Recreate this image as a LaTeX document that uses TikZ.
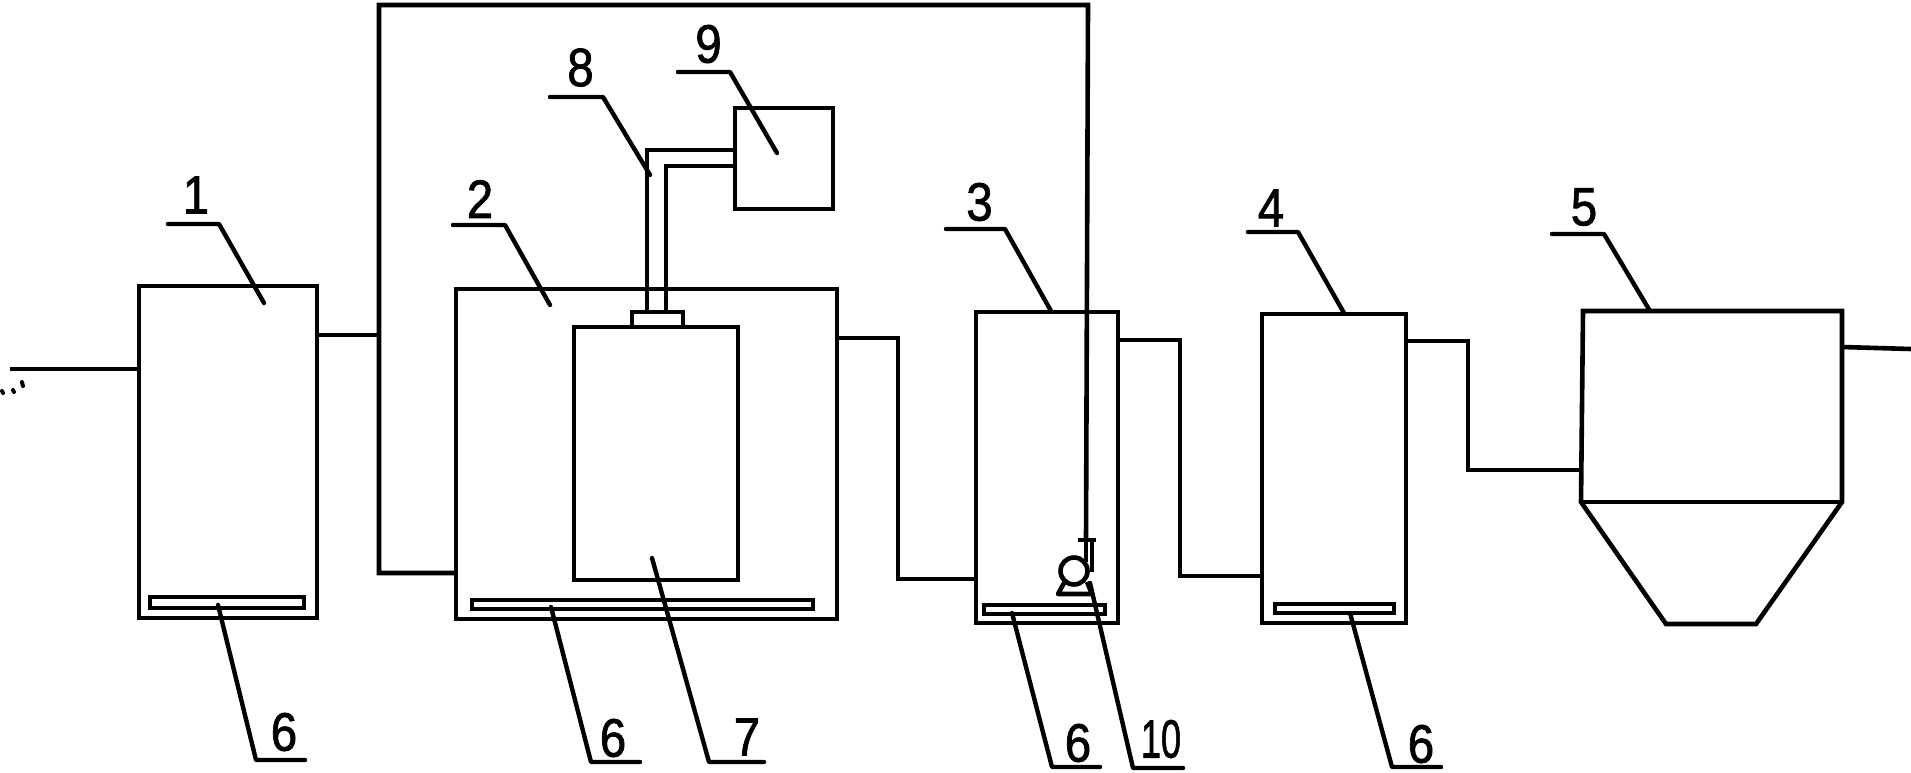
\documentclass[tikz,border=0pt]{standalone}
\usepackage{fontspec}
\setmainfont{Liberation Sans}
\newfontfamily\digitfont[FakeBold=1.5]{Liberation Sans}
\tikzset{
  x=1pt,y=-1pt,
  line/.style={draw=black,line width=4.6pt,line join=miter},
  wire/.style={line,line cap=butt},
  leader/.style={draw=black,line width=4.4pt,line join=round,line cap=round},
  vessel/.style={rectangle,draw=black,line width=4.6pt,fill=none,inner sep=0pt,outer sep=0pt},
  diffuser/.style={vessel,line width=3.6pt},
  digit/.style={inner sep=0pt,outer sep=0pt,font=\digitfont\fontsize{54}{54}\selectfont,xscale=.88,transform shape},
}
\begin{document}
\begin{tikzpicture}
\useasboundingbox (0,0) rectangle (1911,772);
% vessels
\node[vessel,minimum width=178pt,minimum height=332pt] (b1) at (228,452) {};
\node[vessel,minimum width=381pt,minimum height=330pt] (b2) at (646.5,454) {};
\node[vessel,minimum width=164pt,minimum height=253pt] (b7) at (656,453.5) {};
\node[vessel,minimum width=142pt,minimum height=311pt] (b3) at (1047,467.5) {};
\node[vessel,minimum width=144pt,minimum height=309pt] (b4) at (1334,468.5) {};
\node[vessel,minimum width=98pt,minimum height=101pt] (b9) at (784,158.5) {};
\node[vessel,minimum width=51pt,minimum height=15pt] (fl) at (657.5,319.5) {};
% settling tank 5
\coordinate (t1) at (1583,311);
\coordinate (t2) at (1842,311);
\coordinate (t3) at (1842,502);
\coordinate (t4) at (1756,624);
\coordinate (t5) at (1666,624);
\coordinate (t6) at (1581,502);
\draw[line] (t1) -- (t2) -- (t3) -- (t4) -- (t5) -- (t6) -- cycle;
\draw[line] (t6) -- (t3);
% diffusers
\node[diffuser,minimum width=154pt,minimum height=11pt] (d1) at (227,602.5) {};
\node[diffuser,minimum width=341pt,minimum height=9pt] (d2) at (642.5,604.5) {};
\node[diffuser,minimum width=121pt,minimum height=9pt] (d3) at (1044.5,609.5) {};
\node[diffuser,minimum width=119pt,minimum height=9pt] (d4) at (1334.5,608.5) {};
% inlet and piping
\coordinate (in) at (10,369);
\coordinate (out) at (1911,349);
\draw[wire] (in) -- (b1.west |- in);
\draw[wire] (b1.east |- 0,335) -- (379,335);
\draw[wire] (b2.west |- 0,573) -- (379,573) -- (379,5) -- (1088,5) -- (1086,540);
\draw[wire] (b2.east |- 0,338) -- (898,338) -- (898,579) -- (b3.west |- 0,579);
\draw[wire] (b3.east |- 0,340) -- (1180,340) -- (1180,576) -- (b4.west |- 0,576);
\draw[wire] (b4.east |- 0,341) -- (1468,341) -- (1468,470) -- (1581,470);
\draw[wire] (1842,347) -- (out);
% gas pipe 8
\draw[wire] (fl.north -| 647,0) -- (647,150) -- (b9.west |- 0,150);
\draw[wire] (fl.north -| 666,0) -- (666,166) -- (b9.west |- 0,166);
% pump 10
\node[circle,draw=black,line width=4.6pt,minimum size=27pt,inner sep=0pt] (pump) at (1074,571) {};
\draw[wire] (1078,540) -- (1096,540);
\draw[wire] (1086,540) -- (1086,562);
\draw[wire] (1092,540) -- (1092,572);
\draw[line,line join=round] (1064,583) -- (1058,594) -- (1092,594) -- (1087,582);
% specks by the inlet
\draw[line width=4pt,line cap=round] (2,391) -- (3,393) (13,390) -- (14,392) (22,382) -- (23,386);
% leaders
\coordinate (l1a) at (168,224); \coordinate (l1b) at (219,224); \coordinate (l1c) at (264,303);
\coordinate (l2a) at (453,225); \coordinate (l2b) at (505,225); \coordinate (l2c) at (550,305);
\coordinate (l3a) at (946,229); \coordinate (l3b) at (1005,229); \coordinate (l3c) at (1051,311);
\coordinate (l4a) at (1248,232); \coordinate (l4b) at (1298,232); \coordinate (l4c) at (1344,313);
\coordinate (l5a) at (1552,234); \coordinate (l5b) at (1604,234); \coordinate (l5c) at (1650,311);
\coordinate (l8a) at (550,97); \coordinate (l8b) at (603,97); \coordinate (l8c) at (650,175);
\coordinate (l9a) at (678,72); \coordinate (l9b) at (730,72); \coordinate (l9c) at (777,153);
\draw[leader] (l1a) -- (l1b) -- (l1c);
\draw[leader] (l2a) -- (l2b) -- (l2c);
\draw[leader] (l3a) -- (l3b) -- (l3c);
\draw[leader] (l4a) -- (l4b) -- (l4c);
\draw[leader] (l5a) -- (l5b) -- (l5c);
\draw[leader] (l8a) -- (l8b) -- (l8c);
\draw[leader] (l9a) -- (l9b) -- (l9c);
\draw[leader] (218,605) -- (256,760) -- (305,760);
\draw[leader] (551,607) -- (591,762) -- (640,762);
\draw[leader] (652,558) -- (709,762) -- (764,762);
\draw[leader] (1012,613) -- (1052,767) -- (1100,767);
\draw[leader] (1090,583) -- (1133,768) -- (1183,768);
\draw[leader] (1350,613) -- (1392,767) -- (1441,767);
% labels
\node[digit] (n1) at (196,195) {1};
\node[digit] (n2) at (480,199) {2};
\node[digit] (n3) at (979.5,202) {3};
\node[digit] (n4) at (1271,208) {4};
\node[digit] (n5) at (1584,207) {5};
\node[digit] (n8) at (580.5,67.5) {8};
\node[digit] (n9) at (708.5,44) {9};
\node[digit] (n6a) at (284,732) {6};
\node[digit] (n6b) at (613,738) {6};
\node[digit] (n7) at (747,737) {7};
\node[digit] (n6c) at (1078,743) {6};
\node[digit,xscale=.76] (n10) at (1161,739) {10};
\node[digit] (n6d) at (1421,744) {6};
\end{tikzpicture}
\end{document}
